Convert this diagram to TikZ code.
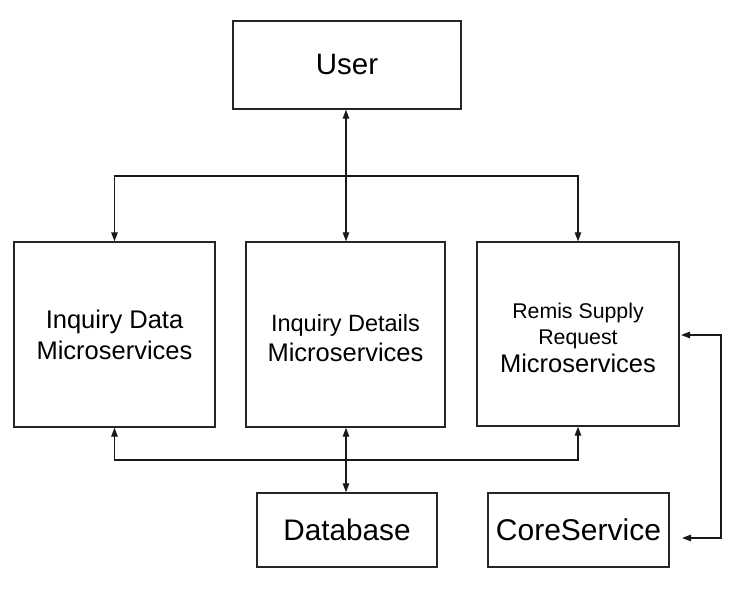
\documentclass[tikz,border=0pt]{standalone}
\usepackage{fontspec}
\setmainfont{Liberation Sans}
\usetikzlibrary{arrows.meta}
\begin{document}
\begin{tikzpicture}[x=1pt,y=-1pt,
  box/.style={draw=black!85, line width=1.4pt, rectangle, inner sep=0pt, align=center, text=black},
  conn/.style={draw=black!90, line width=1.3pt},
  both/.style={conn, {Triangle[length=9pt,width=6.5pt]}-{Triangle[length=9pt,width=6.5pt]}},
  one/.style={conn, -{Triangle[length=9pt,width=6.5pt]}}]
\useasboundingbox (0,0) rectangle (734,601);
% boxes
\node[box, minimum width=228pt, minimum height=88pt, font=\fontsize{29.5}{34}\selectfont] (user) at (347,65) {User};
\node[box, minimum width=201pt, minimum height=185pt, font=\fontsize{25.5}{31}\selectfont] (left) at (114.5,334.5)
  {Inquiry Data\\Microservices};
\node[box, minimum width=199pt, minimum height=185pt, font=\fontsize{25.5}{30}\selectfont] (mid) at (345.5,334.5)
  {\fontsize{23.5}{30}\selectfont\rule{0pt}{24pt}Inquiry Details\\Microservices};
\node[box, minimum width=202pt, minimum height=184pt, font=\fontsize{21.3}{26}\selectfont] (right) at (578,334)
  {\rule{0pt}{23.5pt}Remis Supply\\Request\\[2pt]\fontsize{25.5}{28}\selectfont Microservices};
\node[box, minimum width=180pt, minimum height=74pt, font=\fontsize{29.7}{34}\selectfont] (db) at (347,530) {Database};
\node[box, minimum width=181pt, minimum height=74pt, font=\fontsize{30}{34}\selectfont] (core) at (578.5,530) {CoreService};
% junction coordinates
\coordinate (jt) at (346,176);
\coordinate (jb) at (346,460);
\coordinate (cr1) at (681,335);
\coordinate (cr2) at (682,538);
% connectors
\draw[both] (user.south -| jt) -- (mid.north -| jt);
\draw[one] (jt) -| (left.north);
\draw[one] (jt) -| (right.north);
\draw[one] (jb) -| (left.south);
\draw[one] (jb) -| (right.south);
\draw[both] (mid.south -| jb) -- (db.north -| jb);
\draw[both] (cr1) -- (721,335) -- (721,538) -- (cr2);
\end{tikzpicture}
\end{document}
